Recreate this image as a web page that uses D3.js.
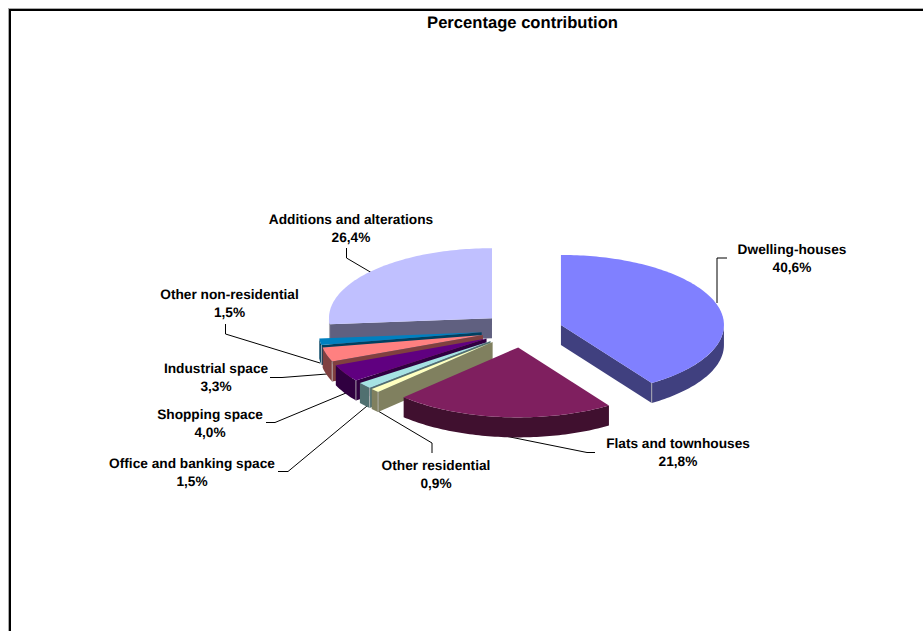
<!DOCTYPE html>
<html><head><meta charset="utf-8">
<script src="https://cdnjs.cloudflare.com/ajax/libs/d3/7.8.5/d3.min.js"></script>
<style>html,body{margin:0;padding:0;background:#fff}svg{display:block}
text{font-family:"Liberation Sans",Arial,sans-serif;font-weight:bold;fill:#000;text-rendering:geometricPrecision}</style>
</head><body><svg id="c" width="923" height="631"></svg>
<script>
const categories=["Dwelling-houses","Flats and townhouses","Other residential","Office and banking space","Shopping space","Industrial space","Other non-residential","Additions and alterations"];
const values=[40.6,21.8,0.9,1.5,4.0,3.3,1.5,26.4];
const valueLabels=["40,6%","21,8%","0,9%","1,5%","4,0%","3,3%","1,5%","26,4%"];
const topColors=["#8080FF","#7F1F5F","#FFFFC0","#A6E3E3","#600080","#FF8080","#0080C0","#C0C0FF"];
const sideColors=["#40407F","#40102F","#80805F","#507070","#300040","#804040","#004060","#606080"];
const drawOrder=[7,6,5,4,3,2,1,0];
// layout of the label anchors and leader polylines
const labelPos=[[792,254],[678,448],[436,470],[192,468],[210,419],[216,373],[229.5,299],[351,224]];
const leaders=[[[717,303],[717,258],[727,258]],[[505,436],[587,452.5],[595,452.5]],[[373,408],[432,443],[432,453]],[[367,406],[288,471.5],[278,471.5]],[[346,393],[275,422.5],[266,422.5]],[[327,374],[282,377.5],[270,377.5]],[[320,363],[225.5,334],[225.5,324]],[[372,273],[346.5,258],[346.5,248]]];

const W=923,H=631,cx=522,cy=330,rx=163,ry=70,depth=20,explode=40.7;
const svg=d3.select("#c");
const sx=d3.scaleLinear().domain([-1,1]).range([-rx,rx]);
const sy=d3.scaleLinear().domain([-1,1]).range([-ry,ry]);
const pie=d3.pie().sort(null).startAngle(0).endAngle(2*Math.PI);
const arcs=pie(values);
const pt=(o,a,r=1,dz=0)=>[o[0]+sx(r*Math.sin(a)),o[1]-sy(r*Math.cos(a))+dz];
function arcPts(o,a0,a1,dz){const n=Math.max(2,Math.ceil((a1-a0)/0.02));return d3.range(n+1).map(i=>pt(o,a0+(a1-a0)*i/n,1,dz));}
const line=d3.line();

svg.append("rect").attr("x",10).attr("y",10).attr("width",W).attr("height",H).attr("fill","#fff").attr("stroke","#000").attr("stroke-width",2);
svg.append("rect").attr("x",8.5).attr("y",8.5).attr("width",W).attr("height",H).attr("fill","none").attr("stroke","#aaa").attr("stroke-width",1);
svg.append("text").attr("x",522.5).attr("y",28).attr("text-anchor","middle").attr("font-size",16.6).text("Percentage contribution");

leaders.forEach(l=>svg.append("path").attr("d",line(l)).attr("fill","none").attr("stroke","#000").attr("stroke-width",1));

drawOrder.forEach(i=>{
  const d=arcs[i],a0=d.startAngle,a1=d.endAngle,m=(a0+a1)/2;
  const o=pt([cx,cy],m,explode/rx);
  const g=svg.append("g");
  const side=sideColors[i],top=topColors[i];
  // cut faces
  if(Math.sin(a0)<-1e-6){const p=pt(o,a0);g.append("path").attr("d",line([o,p,[p[0],p[1]+depth],[o[0],o[1]+depth]])+"Z").attr("fill",side);}
  if(Math.sin(a1)>1e-6){const p=pt(o,a1);g.append("path").attr("d",line([o,p,[p[0],p[1]+depth],[o[0],o[1]+depth]])+"Z").attr("fill",side);}
  // outer wall on the front half
  const w0=Math.max(a0,Math.PI/2),w1=Math.min(a1,Math.PI*1.5);
  if(w1>w0){const up=arcPts(o,w0,w1,0),dn=arcPts(o,w0,w1,depth).reverse();
    g.append("path").attr("d",line(up.concat(dn))+"Z").attr("fill",side);}
  // top
  g.append("path").attr("d",line([o].concat(arcPts(o,a0,a1,0)))+"Z").attr("fill",top);
  // light vertical ridge edges
  [a0,a1].forEach(a=>{const s=Math.sin(a);if((a===a0&&s<-1e-6&&a0>Math.PI/2&&a0<Math.PI*1.5)||(a===a1&&s>1e-6&&a1>Math.PI/2)){const p=pt(o,a);
    g.append("line").attr("x1",p[0]).attr("y1",p[1]).attr("x2",p[0]).attr("y2",p[1]+depth).attr("stroke","#bbb").attr("stroke-width",0.8);}});
});

categories.forEach((c,i)=>{
  const t=svg.append("text").attr("text-anchor","middle").attr("font-size",13.7);
  t.append("tspan").attr("x",labelPos[i][0]).attr("y",labelPos[i][1]).text(c);
  t.append("tspan").attr("x",labelPos[i][0]).attr("dy",18).text(valueLabels[i]);
});
</script></body></html>
